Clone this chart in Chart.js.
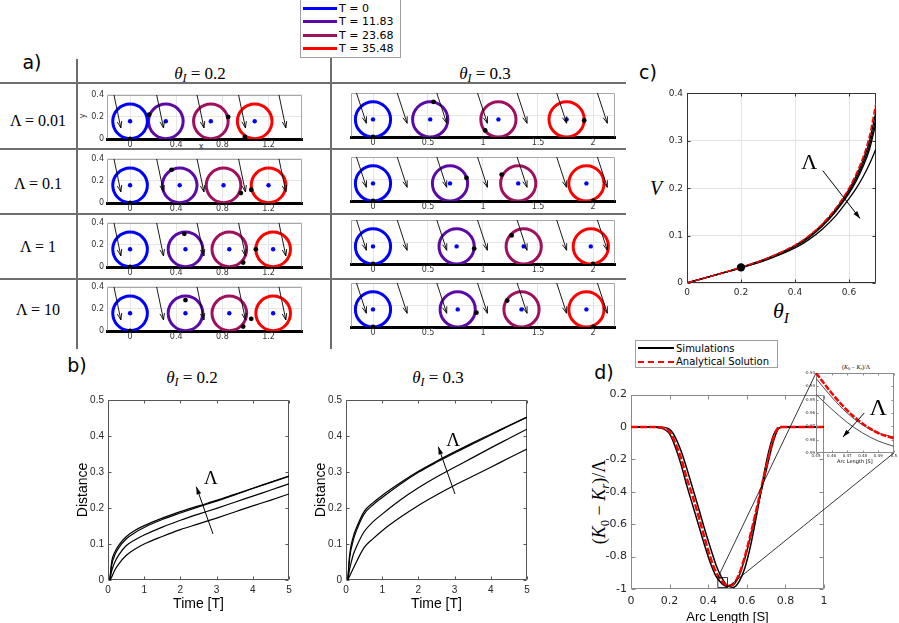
<!DOCTYPE html>
<html>
<head>
<meta charset="utf-8">
<title>Rolling disc figure</title>
<script src="https://cdn.jsdelivr.net/npm/chart.js@4.4.1/dist/chart.umd.min.js"></script>
<style>
  body { margin: 0; background: #fff; }
  #fig { position: relative; width: 899px; height: 623px; overflow: hidden; font-family: "DejaVu Sans", sans-serif; color: #000; }
  #fig canvas { position: absolute; }
  .txt { position: absolute; white-space: nowrap; transform: translate(-50%, -50%); line-height: 1; }
  .serif { font-family: "Liberation Serif", "DejaVu Serif", serif; }
  .rule { position: absolute; background: #6e6e6e; }
  .lgd { position: absolute; box-sizing: border-box; background: #fff; border: 1px solid #a0a0a0; }
  .lgd .row { position: absolute; left: 2px; height: 12px; display: flex; align-items: center; white-space: nowrap; }
  .lgd .sw { width: 34px; height: 0; margin-right: 2px; }
  sub { font-size: 70%; vertical-align: -0.3em; line-height: 0; }
</style>
</head>
<body>
<div id="fig">
  <!-- table rules of panel a -->
  <div class="rule" style="left:0;top:82px;width:626px;height:2px"></div>
  <div class="rule" style="left:0;top:148px;width:626px;height:2px"></div>
  <div class="rule" style="left:0;top:213px;width:626px;height:2px"></div>
  <div class="rule" style="left:0;top:278px;width:626px;height:2px"></div>
  <div class="rule" style="left:76px;top:59px;width:2px;height:290px"></div>
  <div class="rule" style="left:330px;top:57px;width:2px;height:292px"></div>

  <div class="txt" style="left:32px;top:62px;font-size:19px">a)</div>
  <div class="txt serif" style="left:200px;top:73px;font-size:17px"><i>θ</i><sub><i>I</i></sub> = 0.2</div>
  <div class="txt serif" style="left:485px;top:73px;font-size:17px"><i>θ</i><sub><i>I</i></sub> = 0.3</div>
  <div class="txt" style="left:201px;top:147px;font-size:8px;color:#333">x</div>
  <div class="txt" style="left:83px;top:116px;font-size:8px;color:#333;transform:translate(-50%,-50%) rotate(-90deg)">y</div>

  <div class="txt" style="left:77px;top:365px;font-size:19px">b)</div>
  <div class="txt serif" style="left:192px;top:377px;font-size:17px"><i>θ</i><sub><i>I</i></sub> = 0.2</div>
  <div class="txt serif" style="left:438px;top:377px;font-size:17px"><i>θ</i><sub><i>I</i></sub> = 0.3</div>

  <div class="txt" style="left:648px;top:72px;font-size:19px">c)</div>
  <div class="txt serif" style="left:656px;top:188px;font-size:20px"><i>V</i></div>
  <div class="txt serif" style="left:781px;top:311px;font-size:22px"><i>θ</i><sub><i>I</i></sub></div>

  <div class="txt" style="left:604px;top:372px;font-size:19px">d)</div>
  <div class="txt serif" style="left:599px;top:502px;font-size:18px;transform:translate(-50%,-50%) rotate(-90deg)">(<i>K</i><sub>0</sub> − <i>K<sub>r</sub></i>)/Λ</div>
  <div class="txt serif" style="left:856px;top:367px;font-size:6px">(<i>K</i><sub>0</sub> − <i>K<sub>r</sub></i>)/Λ</div>

  <div class="lgd" id="tLegend" style="left:300px;top:-1px;width:101px;height:59px;font-size:11px"></div>
  <div class="lgd" id="dLegend" style="left:635px;top:340px;width:143px;height:28px;font-size:10px"></div>
</div>

<script>
// ---------- DATA ----------
const tLabels = ['T = 0', 'T = 11.83', 'T = 23.68', 'T = 35.48'];
const lambdaLabels = ['Λ = 0.01', 'Λ = 0.1', 'Λ = 1', 'Λ = 10'];

// a) disc centres (x) per Λ row and the tracked material point [x, y]
const centresTheta02 = [[0, 0.31, 0.70, 1.08], [0, 0.43, 0.81, 1.20], [0, 0.48, 0.86, 1.24], [0, 0.48, 0.86, 1.24]];
const markersTheta02 = [
    [[0, 0], [0.165, 0.22], [0.85, 0.20], [0.995, 0.02]],
    [[0, 0], [0.36, 0.30], [0.96, 0.09], [1.05, 0.12]],
    [[0, 0], [0.47, 0.30], [0.98, 0.04], [1.09, 0.16]],
    [[0, 0], [0.48, 0.28], [0.98, 0.04], [1.05, 0.11]]
];
const centresTheta03 = [[0, 0.52, 1.14, 1.76], [0, 0.70, 1.32, 1.94], [0, 0.76, 1.37, 1.98], [0, 0.77, 1.35, 1.94]];
const markersTheta03 = [
    [[0, 0], [0.55, 0.32], [1.02, 0.06], [1.92, 0.15]],
    [[0, 0], [0.85, 0.21], [1.17, 0.24], [2.0, 0]],
    [[0, 0], [0.92, 0.14], [1.26, 0.26], [2.0, 0]],
    [[0, 0], [0.94, 0.13], [1.22, 0.24], [2.0, 0]]
];
const centreY = 0.16;
const radiusTheta02 = 0.15;
const radiusTheta03 = 0.16;
// gravity arrows: tail x positions, tail/head y, head x shift
const gravityXTheta02 = [-0.14, 0.23, 0.58, 0.94, 1.29];
const gravityXTheta03 = [-0.15, 0.22, 0.58, 0.95, 1.31, 1.67, 2.04];
const gravityYTheta02 = [0.4, 0.1];
const gravityYTheta03 = [0.4, 0.125];
const gravityDxTheta02 = 0.06;
const gravityDxTheta03 = 0.09;
const aTicksXTheta02 = [0, 0.4, 0.8, 1.2];
const aTicksXTheta03 = [0, 0.5, 1, 1.5, 2];
const aTicksY = [0, 0.2, 0.4];

// b) distance vs time, one curve per Λ
const timeT = [0.05, 0.1, 0.2, 0.3, 0.5, 0.75, 1, 1.5, 2, 2.5, 3, 3.5, 4, 4.5, 5];
const distanceTheta02 = [
    [0, 0.05, 0.08, 0.097, 0.12, 0.138, 0.151, 0.172, 0.19, 0.206, 0.221, 0.238, 0.255, 0.272, 0.289],
    [0, 0.04, 0.072, 0.09, 0.114, 0.132, 0.146, 0.168, 0.186, 0.203, 0.219, 0.236, 0.254, 0.271, 0.288],
    [0, 0.025, 0.052, 0.07, 0.095, 0.112, 0.125, 0.147, 0.166, 0.183, 0.199, 0.216, 0.233, 0.25, 0.267],
    [0, 0.008, 0.03, 0.045, 0.068, 0.086, 0.1, 0.121, 0.14, 0.156, 0.172, 0.189, 0.206, 0.222, 0.239]
];
const distanceTheta03 = [
    [0, 0.07, 0.12, 0.148, 0.19, 0.215, 0.235, 0.27, 0.302, 0.33, 0.356, 0.381, 0.405, 0.429, 0.453],
    [0, 0.06, 0.11, 0.14, 0.183, 0.209, 0.229, 0.266, 0.299, 0.327, 0.353, 0.378, 0.403, 0.428, 0.452],
    [0, 0.03, 0.07, 0.095, 0.134, 0.162, 0.183, 0.222, 0.256, 0.286, 0.313, 0.34, 0.367, 0.393, 0.419],
    [0, 0.011, 0.032, 0.053, 0.09, 0.115, 0.137, 0.174, 0.207, 0.236, 0.263, 0.288, 0.313, 0.339, 0.364]
];
const bArrowTheta02 = [[2.9, 0.128], [2.44, 0.259]];
const bArrowTheta03 = [[3.01, 0.239], [2.55, 0.37]];
const bLambdaTheta02 = [2.84, 0.28];
const bLambdaTheta03 = [2.96, 0.387];
const bTicksX = [0, 1, 2, 3, 4, 5];
const bTicksY = [0, 0.1, 0.2, 0.3, 0.4, 0.5];

// c) speed vs initial angle
const thetaI = [0, 0.1, 0.2, 0.3, 0.4, 0.45, 0.5, 0.55, 0.6, 0.625, 0.65, 0.675, 0.7];
const vAnalytical = [0, 0.016, 0.033, 0.053, 0.08, 0.099, 0.124, 0.157, 0.2, 0.228, 0.262, 0.308, 0.38];
const vSimulations = [
    [0, 0.016, 0.033, 0.053, 0.079, 0.098, 0.123, 0.155, 0.197, 0.224, 0.256, 0.298, 0.362],
    [0, 0.016, 0.033, 0.052, 0.078, 0.096, 0.121, 0.152, 0.193, 0.218, 0.249, 0.288, 0.348],
    [0, 0.016, 0.032, 0.051, 0.077, 0.095, 0.119, 0.15, 0.189, 0.213, 0.243, 0.28, 0.338],
    [0, 0.016, 0.032, 0.05, 0.074, 0.091, 0.113, 0.141, 0.178, 0.198, 0.222, 0.25, 0.283]
];
const cMarker = [0.2, 0.033];
const cArrow = [[0.503, 0.237], [0.641, 0.136]];
const cLambda = [0.453, 0.252];
const cTicksX = [0, 0.2, 0.4, 0.6];
const cTicksY = [0, 0.1, 0.2, 0.3, 0.4];

// d) curvature difference along arc length
const dSeriesNames = ['Simulations', 'Analytical Solution'];
const arcS = [0, 0.1, 0.15, 0.2, 0.23, 0.26, 0.29, 0.32, 0.35, 0.38, 0.41, 0.44, 0.47, 0.5, 0.53, 0.56, 0.59, 0.62, 0.65, 0.68, 0.71, 0.74, 0.77, 0.8, 0.9, 1];
const kAnalytical = [0, 0, -0.003, -0.03, -0.10, -0.195, -0.32, -0.43, -0.55, -0.68, -0.80, -0.895, -0.95, -0.98, -0.97, -0.91, -0.80, -0.66, -0.51, -0.35, -0.2, -0.06, 0, 0, 0, 0];
const kSimulations = [
    [0, 0, -0.006, -0.042, -0.125, -0.235, -0.365, -0.485, -0.605, -0.725, -0.835, -0.92, -0.965, -0.985, -0.975, -0.92, -0.81, -0.675, -0.525, -0.37, -0.22, -0.08, -0.004, 0, 0, 0],
    [0, 0, 0, -0.015, -0.065, -0.15, -0.26, -0.38, -0.5, -0.625, -0.74, -0.85, -0.93, -0.98, -0.99, -0.955, -0.87, -0.73, -0.55, -0.35, -0.17, -0.045, -0.005, 0, 0, 0]
];
const dTicksX = [0, 0.2, 0.4, 0.6, 0.8, 1];
const dTicksY = [-1, -0.8, -0.6, -0.4, -0.2, 0, 0.2];

// d) inset
const insetRangeX = [0.45, 0.5];
const insetRangeY = [-0.99, -0.93];
const insetS = [0.45, 0.46, 0.47, 0.48, 0.49, 0.5];
const insetAnalytical = [-0.93, -0.945, -0.958, -0.968, -0.975, -0.979];
const insetSimulations = [
    [-0.934, -0.948, -0.96, -0.969, -0.975, -0.978],
    [-0.946, -0.957, -0.967, -0.975, -0.981, -0.985]
];
const insetArrow = [[0.481, -0.96], [0.4673, -0.978]];
const insetLambda = [0.49, -0.957];
const insetTicksX = [0.45, 0.46, 0.47, 0.48, 0.49, 0.5];
const insetTicksY = [-0.99, -0.98, -0.97, -0.96, -0.95, -0.94, -0.93];

// ---------- STYLE / LAYOUT ----------
const tColors = ['#0000ff', '#5b0aa8', '#a0105e', '#ff0000'];
const aLeftBox = { left: 107, w: 195, h: 46, yW: 26, xH: 12, padT: 6, padR: 6 };
const aLeftTops = [93, 157, 221, 285];
const aRightBox = { left: 351, w: 264, h: 44, yW: 8, xH: 12, padT: 6, padR: 6 };
const aRightTops = [93, 157, 220, 283];
const bBox = { top: 398, w: 181, h: 182, yW: 35, xH: 35, padT: 8, padR: 10 };
const bLefts = [108, 346];
const cBox = { left: 687, top: 92, w: 189, h: 191, yW: 26, xH: 16, padT: 8, padR: 12 };
const dBox = { left: 631, top: 394, w: 193, h: 195, yW: 30, xH: 38, padT: 10, padR: 10 };
const insetBox = { left: 816, top: 373, w: 79, h: 80, yW: 14, xH: 14, padT: 4, padR: 3 };

const fig = document.getElementById('fig');

// legends and row labels
tLabels.forEach((lab, k) => {
    const row = document.createElement('div');
    row.className = 'row';
    row.style.top = (2 + k * 13.6) + 'px';
    row.innerHTML = `<span class="sw" style="border-top:3px solid ${tColors[k]}"></span>${lab}`;
    document.getElementById('tLegend').appendChild(row);
});
dSeriesNames.forEach((lab, k) => {
    const row = document.createElement('div');
    row.className = 'row';
    row.style.top = (1 + k * 13.5) + 'px';
    const line = k === 0 ? '2px solid #000' : '2px dashed #ff0000';
    row.innerHTML = `<span class="sw" style="width:36px;border-top:${line}"></span>${lab}`;
    document.getElementById('dLegend').appendChild(row);
});
lambdaLabels.forEach((lab, r) => {
    const el = document.createElement('div');
    el.className = 'txt serif';
    el.style.cssText = `left:38px;top:${[121, 184, 247, 310][r]}px;font-size:16px`;
    el.textContent = lab;
    fig.appendChild(el);
});

// ---------- CHART HELPERS ----------
Chart.defaults.animation = false;
Chart.defaults.events = [];

const fmt = v => String(+Number(v).toFixed(3));

function place(box) {
    const c = document.createElement('canvas');
    const w = box.yW + box.w + box.padR, h = box.padT + box.h + box.xH;
    c.width = w; c.height = h;
    c.style.left = (box.left - box.yW) + 'px';
    c.style.top = (box.top - box.padT) + 'px';
    c.style.width = w + 'px'; c.style.height = h + 'px';
    fig.appendChild(c);
    return c;
}

function axis(horizontal, range, ticks, size, o) {
    return {
        type: 'linear', min: range[0], max: range[1],
        afterBuildTicks: s => { s.ticks = ticks.map(v => ({ value: v })); },
        afterFit: s => { if (horizontal) s.height = size; else s.width = size; },
        ticks: {
            autoSkip: false, maxRotation: 0, minRotation: 0,
            padding: o.pad, color: o.color || '#262626', font: o.font,
            callback: o.hide ? () => '' : v => fmt(v)
        },
        grid: { display: !!o.grid, color: o.grid || 'transparent', drawTicks: false },
        border: { display: !!o.border, color: o.border || '#000', width: o.borderWidth || 1 },
        title: o.title
            ? { display: true, text: o.title, font: o.titleFont, color: '#000', padding: { top: 2, bottom: 2 } }
            : { display: false }
    };
}

// box round the plot area with MATLAB-style inward ticks
function framePlugin(color, tickLen, skipBottom) {
    return {
        id: 'frame',
        beforeDatasetsDraw(chart) {
            const { ctx, chartArea: a, scales } = chart;
            const L = Math.round(a.left) + 0.5, R = Math.round(a.right) - 0.5;
            const T = Math.round(a.top) + 0.5, B = Math.round(a.bottom) - 0.5;
            ctx.save();
            ctx.strokeStyle = color; ctx.lineWidth = 1;
            ctx.beginPath();
            ctx.moveTo(L, B); ctx.lineTo(L, T); ctx.lineTo(R, T); ctx.lineTo(R, B);
            if (!skipBottom) ctx.lineTo(L, B);
            if (tickLen) {
                scales.x.ticks.forEach(t => {
                    const p = Math.round(scales.x.getPixelForValue(t.value)) + 0.5;
                    ctx.moveTo(p, B); ctx.lineTo(p, B - tickLen);
                    ctx.moveTo(p, T); ctx.lineTo(p, T + tickLen);
                });
                scales.y.ticks.forEach(t => {
                    const p = Math.round(scales.y.getPixelForValue(t.value)) + 0.5;
                    ctx.moveTo(L, p); ctx.lineTo(L + tickLen, p);
                    ctx.moveTo(R, p); ctx.lineTo(R - tickLen, p);
                });
            }
            ctx.stroke();
            ctx.restore();
        }
    };
}

// text (the Λ labels) placed at data coordinates
function notesPlugin(items) {
    return {
        id: 'notes',
        afterDatasetsDraw(chart) {
            const { ctx, scales: { x, y } } = chart;
            ctx.save();
            ctx.fillStyle = '#000'; ctx.textAlign = 'center'; ctx.textBaseline = 'middle';
            items.forEach(n => {
                ctx.font = n.font;
                ctx.fillText(n.text, x.getPixelForValue(n.at[0]), y.getPixelForValue(n.at[1]));
            });
            ctx.restore();
        }
    };
}

// arrow heads on datasets flagged with arrowHead
Chart.register({
    id: 'arrowHeads',
    afterDatasetsDraw(chart) {
        const ctx = chart.ctx;
        chart.data.datasets.forEach((ds, i) => {
            if (!ds.arrowHead) return;
            const p = chart.getDatasetMeta(i).data;
            const a = p[p.length - 2], b = p[p.length - 1];
            const ang = Math.atan2(b.y - a.y, b.x - a.x);
            const len = ds.arrowHead === 'open' ? 7 : 8, spread = ds.arrowHead === 'open' ? 0.33 : 0.3;
            ctx.save();
            ctx.strokeStyle = ctx.fillStyle = ds.borderColor;
            ctx.lineWidth = ds.borderWidth;
            ctx.beginPath();
            ctx.moveTo(b.x - len * Math.cos(ang - spread), b.y - len * Math.sin(ang - spread));
            ctx.lineTo(b.x, b.y);
            ctx.lineTo(b.x - len * Math.cos(ang + spread), b.y - len * Math.sin(ang + spread));
            if (ds.arrowHead === 'filled') { ctx.closePath(); ctx.fill(); } else ctx.stroke();
            ctx.restore();
        });
    }
});

const pts = (xs, ys) => xs.map((x, i) => ({ x, y: ys[i] }));
const curve = (xs, ys, color, width, dash) => ({
    data: pts(xs, ys), showLine: true, borderColor: color, borderWidth: width,
    borderDash: dash || [], pointRadius: 0, cubicInterpolationMode: 'monotone', fill: false
});
const arrow = (p, q, kind, width) => ({
    data: [{ x: p[0], y: p[1] }, { x: q[0], y: q[1] }], showLine: true,
    borderColor: '#000', borderWidth: width, pointRadius: 0, arrowHead: kind
});
const dots = (list, r, color) => ({
    data: list.map(m => ({ x: m[0], y: m[1] })), pointRadius: r,
    pointBackgroundColor: color, pointBorderWidth: 0
});

function build(box, xAxis, yAxis, datasets, plugins) {
    return new Chart(place(box), {
        type: 'scatter',
        data: { datasets },
        options: {
            responsive: false, animation: false,
            layout: { autoPadding: false, padding: { top: box.padT, right: box.padR, left: 0, bottom: 0 } },
            scales: { x: xAxis, y: yAxis },
            plugins: { legend: { display: false }, tooltip: { enabled: false } }
        },
        plugins: plugins || []
    });
}

// ---------- a) disc snapshots ----------
const discRadiusPx = (chart, r) => {
    const s = chart.scales.x;
    return Math.abs(s.getPixelForValue(r) - s.getPixelForValue(0)) || 0;
};

function discSets(centres, markers, radius, gx, gy, gdx) {
    const sets = gx.map(x0 => arrow([x0, gy[0]], [x0 + gdx, gy[1]], 'open', 0.9));
    sets.push(dots(markers, 2.4, '#000'));
    sets.push(dots(centres.map(x => [x, centreY]), 2.2, '#0000ff'));
    centres.forEach((x, k) => sets.push({
        label: tLabels[k],
        data: [{ x, y: centreY }],
        pointRadius: c => discRadiusPx(c.chart, radius),
        pointBorderColor: tColors[k], pointBorderWidth: 3,
        pointBackgroundColor: 'rgba(0,0,0,0)'
    }));
    return sets;
}

const aFont = { family: 'DejaVu Sans', size: 8 };
lambdaLabels.forEach((lab, r) => {
    build({ ...aLeftBox, top: aLeftTops[r] },
        axis(true, [-0.2, 1.49], aTicksXTheta02, aLeftBox.xH, { font: aFont, pad: 1, color: '#333', grid: '#e6e6e6', border: '#000', borderWidth: 3 }),
        axis(false, [0, 0.4], aTicksY, aLeftBox.yW, { font: aFont, pad: 3, color: '#333', grid: '#e6e6e6' }),
        discSets(centresTheta02[r], markersTheta02[r], radiusTheta02, gravityXTheta02, gravityYTheta02, gravityDxTheta02),
        [framePlugin('#a8a8a8', 0, true)]);
    build({ ...aRightBox, top: aRightTops[r] },
        axis(true, [-0.2, 2.2], aTicksXTheta03, aRightBox.xH, { font: aFont, pad: 1, color: '#333', grid: '#e6e6e6', border: '#000', borderWidth: 3 }),
        axis(false, [0, 0.4], aTicksY, aRightBox.yW, { font: aFont, pad: 1, hide: true, grid: '#e6e6e6' }),
        discSets(centresTheta03[r], markersTheta03[r], radiusTheta03, gravityXTheta03, gravityYTheta03, gravityDxTheta03),
        [framePlugin('#a8a8a8', 0, true)]);
});

// ---------- b) distance vs time ----------
const bFont = { family: 'Liberation Sans', size: 10 };
const bTitleFont = { family: 'Liberation Sans', size: 14 };
[[distanceTheta02, bArrowTheta02, bLambdaTheta02], [distanceTheta03, bArrowTheta03, bLambdaTheta03]]
    .forEach(([curves, arr, lam], j) => {
        const sets = [arrow(arr[0], arr[1], 'filled', 1)];
        curves.forEach(c => sets.push(curve(timeT, c, '#000', 1.2)));
        build({ ...bBox, left: bLefts[j] },
            axis(true, [0, 5], bTicksX, bBox.xH, { font: bFont, pad: 4, title: 'Time [T]', titleFont: bTitleFont }),
            axis(false, [0, 0.5], bTicksY, bBox.yW, { font: bFont, pad: 4, title: 'Distance', titleFont: bTitleFont }),
            sets,
            [framePlugin('#555', 3), notesPlugin([{ at: lam, text: 'Λ', font: '19px "Liberation Serif"' }])]);
    });

// ---------- c) V vs θ_I ----------
const cFont = { family: 'DejaVu Sans', size: 9 };
build(cBox,
    axis(true, [0, 0.7], cTicksX, cBox.xH, { font: cFont, pad: 4, grid: '#e3e3e3' }),
    axis(false, [0, 0.4], cTicksY, cBox.yW, { font: cFont, pad: 4, grid: '#e3e3e3' }),
    [
        dots([cMarker], 4.2, '#000'),
        arrow(cArrow[0], cArrow[1], 'filled', 1),
        curve(thetaI, vAnalytical, '#ff0000', 1.6, [6, 2]),
        ...vSimulations.map(v => curve(thetaI, v, '#000', 1.3))
    ],
    [framePlugin('#333', 3), notesPlugin([{ at: cLambda, text: 'Λ', font: '22px "Liberation Serif"' }])]);

// ---------- d) curvature ----------
const dFont = { family: 'DejaVu Sans', size: 11 };
const zoomBoxPlugin = {
    id: 'zoomBox',
    afterDatasetsDraw(chart) {
        const { ctx, scales: { x, y } } = chart;
        const x0 = x.getPixelForValue(insetRangeX[0]), x1 = x.getPixelForValue(insetRangeX[1]);
        const y0 = y.getPixelForValue(insetRangeY[1]), y1 = y.getPixelForValue(insetRangeY[0]);
        ctx.save();
        ctx.strokeStyle = '#000'; ctx.lineWidth = 0.8;
        ctx.strokeRect(x0, y0, x1 - x0, y1 - y0);
        ctx.restore();
    }
};
const dChart = build(dBox,
    axis(true, [0, 1], dTicksX, dBox.xH, { font: dFont, pad: 6, title: 'Arc Length [S]', titleFont: { family: 'Liberation Sans', size: 13 } }),
    axis(false, [-1, 0.2], dTicksY, dBox.yW, { font: dFont, pad: 4 }),
    [
        curve(arcS, kAnalytical, '#ff0000', 2.5, [7, 2]),
        ...kSimulations.map(k => curve(arcS, k, '#000', 1.5))
    ],
    [framePlugin('#8a8a8a', 4), zoomBoxPlugin]);

const tinyFont = { family: 'DejaVu Sans', size: 4 };
const insetChart = build(insetBox,
    axis(true, insetRangeX, insetTicksX, insetBox.xH, { font: tinyFont, pad: 1, title: 'Arc Length [S]', titleFont: { family: 'DejaVu Sans', size: 5 } }),
    axis(false, insetRangeY, insetTicksY, insetBox.yW, { font: tinyFont, pad: 1 }),
    [
        arrow(insetArrow[0], insetArrow[1], 'filled', 1),
        curve(insetS, insetAnalytical, '#ff0000', 2.5, [6, 1.5]),
        ...insetSimulations.map(k => curve(insetS, k, '#333', 0.9))
    ],
    [framePlugin('#8a8a8a', 2), notesPlugin([{ at: insetLambda, text: 'Λ', font: '24px "Liberation Serif"' }])]);

// connector lines between the zoom box and the inset
(function drawConnectors() {
    const ov = document.createElement('canvas');
    ov.width = 899; ov.height = 623;
    ov.style.left = '0px'; ov.style.top = '0px';
    fig.appendChild(ov);
    const g = ov.getContext('2d');
    const off = ch => ({ x: parseFloat(ch.canvas.style.left), y: parseFloat(ch.canvas.style.top) });
    const od = off(dChart), oi = off(insetChart);
    const sx = dChart.scales.x, sy = dChart.scales.y, a = insetChart.chartArea;
    g.strokeStyle = '#000'; g.lineWidth = 0.8;
    g.beginPath();
    g.moveTo(od.x + sx.getPixelForValue(insetRangeX[0]), od.y + sy.getPixelForValue(insetRangeY[1]));
    g.lineTo(oi.x + a.left, oi.y + a.top);
    g.moveTo(od.x + sx.getPixelForValue(insetRangeX[1]), od.y + sy.getPixelForValue(insetRangeY[0]));
    g.lineTo(oi.x + a.right, oi.y + a.bottom);
    g.stroke();
})();
</script>
</body>
</html>
